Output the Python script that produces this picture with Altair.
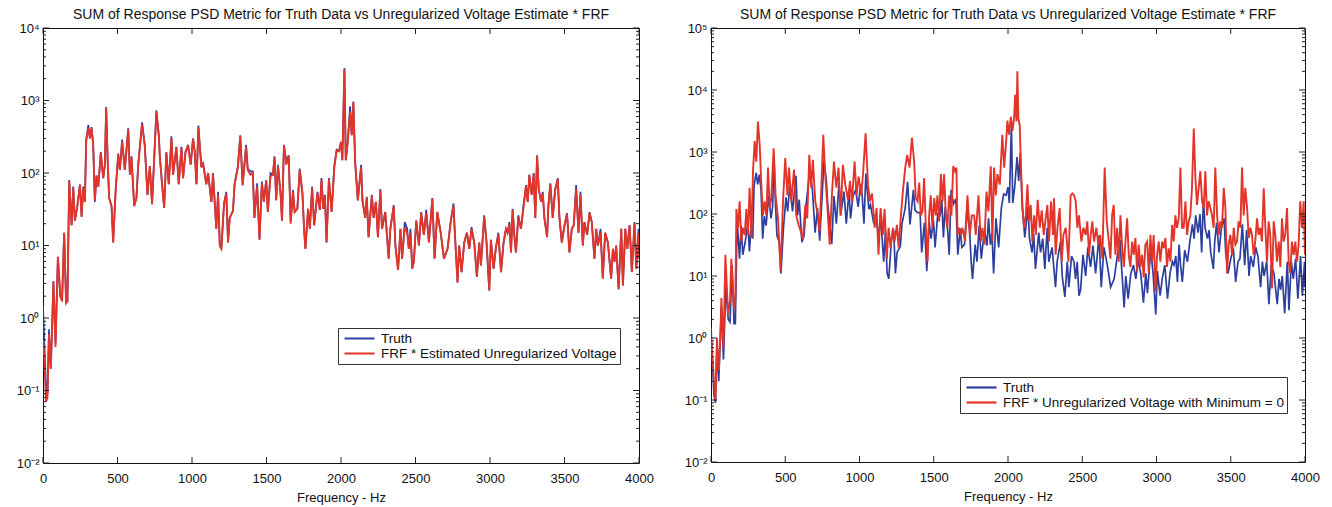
import altair as alt
import pandas as pd

# ---------------- data ----------------
truth_f = [
    0, 10, 20, 30, 40, 52, 62, 70, 84, 100,
    116, 128, 142, 155, 164, 176, 192, 203, 214, 230,
    248, 259, 270, 281, 290, 304, 315, 326, 337, 348,
    359, 371, 388, 404, 415, 424, 434, 444, 460, 471,
    488, 505, 516, 531, 549, 572, 583, 594, 612, 627,
    639, 665, 683, 701, 717, 732, 761, 777, 784, 799,
    813, 828, 844, 862, 873, 895, 911, 929, 940, 956,
    974, 991, 1007, 1018, 1030, 1043, 1063, 1074, 1096, 1108,
    1130, 1141, 1163, 1175, 1186, 1197, 1215, 1230, 1242, 1253,
    1275, 1286, 1308, 1324, 1340, 1363, 1374, 1392, 1408, 1419,
    1437, 1453, 1469, 1482, 1498, 1509, 1527, 1543, 1554, 1565,
    1577, 1595, 1604, 1617, 1633, 1649, 1662, 1678, 1689, 1707,
    1723, 1741, 1752, 1761, 1779, 1791, 1806, 1820, 1842, 1858,
    1869, 1881, 1892, 1903, 1919, 1937, 1955, 1971, 1987, 2000,
    2009, 2023, 2032, 2045, 2061, 2072, 2083, 2095, 2113, 2135,
    2144, 2162, 2173, 2185, 2207, 2219, 2234, 2248, 2264, 2275,
    2297, 2320, 2331, 2354, 2365, 2383, 2399, 2410, 2428, 2444,
    2455, 2466, 2478, 2489, 2505, 2523, 2538, 2556, 2572, 2590,
    2613, 2628, 2646, 2669, 2691, 2715, 2737, 2755, 2764, 2782,
    2793, 2809, 2827, 2845, 2861, 2876, 2894, 2912, 2928, 2939,
    2961, 2977, 2995, 3006, 3024, 3040, 3056, 3074, 3091, 3107,
    3118, 3130, 3141, 3152, 3163, 3174, 3190, 3208, 3226, 3242,
    3253, 3264, 3280, 3293, 3304, 3316, 3327, 3343, 3354, 3365,
    3383, 3392, 3405, 3421, 3437, 3455, 3466, 3482, 3500, 3517,
    3533, 3549, 3562, 3578, 3594, 3607, 3623, 3634, 3652, 3668,
    3683, 3701, 3713, 3724, 3742, 3757, 3773, 3791, 3813, 3825,
    3836, 3847, 3863, 3881, 3892, 3908, 3921, 3937, 3952, 3970,
    3982, 3997, 4000,
]

truth_v = [
    1.5, 0.4, 0.12, 0.09, 0.7, 0.2, 0.9, 3.2, 0.45, 7,
    2, 1.8, 15, 1.7, 1.7, 80, 19, 65, 22, 35,
    70, 25, 65, 40, 285, 460, 300, 430, 245, 40,
    93, 65, 195, 85, 130, 810, 150, 45, 35, 11,
    60, 185, 110, 290, 110, 415, 95, 170, 35, 45,
    130, 500, 245, 50, 125, 37, 730, 340, 170, 70,
    33, 195, 70, 320, 95, 230, 70, 230, 85, 195,
    245, 130, 300, 200, 70, 450, 120, 140, 70, 100,
    40, 100, 17, 55, 11, 9, 38, 55, 11, 24,
    30, 70, 125, 330, 68, 245, 115, 105, 105, 24,
    72, 12, 76, 40, 80, 29, 100, 95, 170, 42,
    130, 50, 22, 245, 145, 175, 22, 58, 29, 32,
    115, 55, 17, 9, 32, 17, 65, 19, 55, 31,
    85, 32, 50, 11, 85, 29, 125, 210, 200, 270,
    150, 2800, 150, 270, 830, 340, 970, 140, 42, 130,
    42, 24, 47, 13, 50, 24, 40, 13, 60, 17,
    29, 6.6, 17, 36, 10, 4.6, 17, 6.6, 21, 17,
    9, 17, 4.8, 6, 22, 10, 29, 14, 31, 11,
    45, 6.6, 29, 15, 6.6, 9, 22, 38, 15, 3.1,
    10, 4.3, 11, 15, 9, 18, 11, 3.7, 11, 5.3,
    26, 11, 2.4, 12, 4.8, 9.5, 15, 4.3, 11, 17,
    15, 21, 8, 32, 14, 8, 26, 17, 38, 68,
    40, 95, 50, 100, 24, 175, 60, 40, 55, 24,
    13, 36, 72, 24, 60, 85, 24, 11, 19, 28,
    8, 17, 19, 68, 15, 55, 10, 21, 14, 29,
    21, 6.6, 17, 10, 17, 3.5, 15, 11, 3.5, 9,
    6, 10, 2.5, 17, 2.8, 17, 9, 19, 4.3, 21,
    4.8, 17, 6.6,
]

# FRF * Estimated Unregularized Voltage (left panel), same frequency lines as truth
est_left_v = [
    0.5, 0.25, 0.07, 0.08, 0.6, 0.2, 0.8, 3.2, 0.4, 7,
    2, 1.7, 15, 1.6, 1.7, 78, 19, 62, 22, 34,
    68, 25, 62, 40, 280, 420, 300, 420, 240, 42,
    90, 65, 190, 85, 125, 790, 150, 45, 35, 11,
    60, 180, 110, 270, 110, 400, 95, 165, 35, 45,
    128, 470, 240, 50, 125, 37, 700, 330, 170, 70,
    33, 190, 70, 300, 95, 225, 70, 225, 85, 190,
    240, 130, 295, 200, 70, 420, 120, 135, 70, 100,
    40, 95, 17, 50, 10, 9, 38, 52, 11, 24,
    30, 70, 120, 320, 68, 230, 110, 95, 100, 24,
    65, 12, 72, 40, 78, 29, 90, 95, 165, 42,
    125, 50, 22, 240, 130, 170, 20, 55, 29, 32,
    110, 52, 17, 9, 32, 17, 62, 19, 53, 31,
    80, 32, 48, 11, 82, 29, 120, 205, 200, 265,
    150, 2700, 150, 260, 700, 330, 950, 140, 42, 120,
    42, 24, 45, 13, 48, 24, 40, 13, 58, 17,
    29, 6.6, 17, 35, 10, 4.6, 17, 6.6, 18, 15,
    9, 15, 4.8, 6, 22, 10, 28, 14, 28, 11,
    44, 6.6, 29, 15, 6.6, 9, 22, 35, 15, 3.1,
    10, 4.3, 11, 15, 9, 17, 11, 3.7, 11, 5.3,
    25, 11, 2.4, 12, 4.8, 9.5, 14, 4.3, 11, 17,
    15, 20, 8, 31, 14, 8, 25, 17, 35, 66,
    40, 92, 50, 98, 24, 172, 60, 40, 52, 24,
    13, 35, 70, 24, 58, 82, 24, 11, 19, 27,
    8, 17, 19, 60, 15, 50, 10, 21, 14, 28,
    21, 6.6, 17, 10, 15, 3.5, 15, 11, 3.5, 9,
    6, 10, 2.5, 17, 2.8, 17, 9, 19, 4.3, 20,
    4.8, 15, 6.6,
]

# FRF * Unregularized Voltage with Minimum = 0 (right panel)
est_right_f = [
    0, 10, 20, 30, 40, 52, 62, 70, 84, 97,
    115, 128, 137, 155, 164, 171, 182, 193, 204, 215,
    227, 238, 249, 260, 272, 283, 294, 305, 316, 328,
    339, 350, 361, 373, 384, 395, 406, 422, 435, 451,
    469, 485, 500, 514, 525, 541, 559, 574, 590, 604,
    619, 635, 648, 662, 675, 686, 702, 720, 731, 743,
    756, 769, 783, 799, 814, 828, 844, 859, 873, 888,
    904, 922, 936, 949, 967, 980, 994, 1012, 1025, 1041,
    1057, 1070, 1084, 1102, 1115, 1128, 1142, 1158, 1169, 1184,
    1196, 1209, 1225, 1236, 1252, 1263, 1276, 1292, 1308, 1321,
    1337, 1353, 1368, 1379, 1391, 1402, 1413, 1424, 1435, 1447,
    1458, 1469, 1480, 1491, 1503, 1514, 1525, 1536, 1548, 1559,
    1570, 1581, 1592, 1604, 1619, 1631, 1644, 1653, 1660, 1671,
    1682, 1693, 1711, 1727, 1743, 1756, 1772, 1783, 1801, 1817,
    1828, 1841, 1855, 1868, 1884, 1895, 1906, 1918, 1929, 1945,
    1962, 1974, 1985, 1996, 2007, 2019, 2030, 2041, 2048, 2057,
    2063, 2070, 2079, 2086, 2097, 2108, 2120, 2131, 2142, 2153,
    2164, 2176, 2187, 2200, 2214, 2227, 2241, 2254, 2265, 2276,
    2290, 2303, 2310, 2321, 2333, 2348, 2362, 2373, 2389, 2407,
    2422, 2434, 2445, 2456, 2467, 2478, 2494, 2508, 2523, 2534,
    2546, 2557, 2568, 2579, 2595, 2608, 2620, 2635, 2651, 2665,
    2679, 2690, 2701, 2712, 2723, 2735, 2746, 2757, 2768, 2780,
    2791, 2802, 2813, 2824, 2836, 2847, 2858, 2869, 2880, 2892,
    2903, 2914, 2925, 2937, 2948, 2959, 2970, 2981, 2993, 3004,
    3015, 3026, 3038, 3049, 3060, 3071, 3082, 3094, 3105, 3116,
    3127, 3138, 3150, 3161, 3172, 3183, 3195, 3206, 3217, 3228,
    3239, 3251, 3262, 3273, 3284, 3295, 3307, 3318, 3329, 3340,
    3351, 3363, 3374, 3385, 3396, 3408, 3419, 3430, 3441, 3453,
    3464, 3475, 3486, 3497, 3509, 3520, 3531, 3542, 3553, 3565,
    3576, 3587, 3598, 3610, 3621, 3632, 3643, 3654, 3665, 3677,
    3688, 3699, 3710, 3722, 3733, 3744, 3755, 3766, 3778, 3789,
    3800, 3811, 3823, 3834, 3845, 3856, 3867, 3879, 3890, 3901,
    3912, 3924, 3935, 3946, 3957, 3968, 3980, 3991, 4000,
]

est_right_v = [
    1.0, 0.5, 0.2, 0.1, 1.0, 0.3, 0.9, 4.4, 0.7, 22,
    2.4, 4, 19, 3, 4, 120, 60, 160, 36, 60,
    46, 120, 46, 265, 41, 490, 1500, 700, 3100, 1300,
    300, 95, 160, 95, 560, 125, 180, 1150, 200, 85,
    12, 160, 800, 200, 560, 160, 520, 95, 67, 53,
    39, 140, 85, 900, 265, 750, 160, 95, 53, 265,
    1900, 430, 140, 32, 200, 700, 265, 560, 95, 620,
    300, 170, 340, 160, 700, 200, 400, 200, 490, 2000,
    300, 160, 215, 60, 125, 22, 125, 46, 120, 19,
    60, 29, 60, 36, 67, 29, 76, 230, 560, 900,
    560, 1700, 700, 180, 160, 320, 95, 110, 380, 60,
    17, 95, 200, 60, 180, 95, 200, 76, 440, 160,
    440, 95, 60, 200, 95, 590, 490, 560, 46, 60,
    46, 60, 36, 200, 46, 95, 95, 46, 200, 36,
    60, 32, 230, 110, 590, 36, 560, 200, 440, 300,
    1900, 560, 1200, 3200, 1900, 3700, 2200, 3500, 8400, 3100,
    20000, 3500, 2700, 700, 140, 60, 95, 300, 76, 140,
    36, 95, 46, 170, 60, 115, 46, 85, 140, 36,
    160, 46, 180, 22, 60, 125, 17, 46, 60, 17,
    200, 215, 200, 160, 60, 95, 36, 60, 46, 76,
    22, 46, 76, 36, 60, 32, 46, 19, 560, 76,
    36, 19, 95, 140, 22, 60, 17, 95, 32, 14,
    36, 85, 22, 14, 36, 22, 41, 12, 32, 14,
    22, 9.5, 32, 36, 11, 46, 17, 46, 5.7, 22,
    36, 17, 36, 28, 41, 14, 28, 17, 67, 36,
    95, 60, 85, 560, 60, 60, 160, 46, 76, 95,
    265, 2400, 380, 140, 265, 490, 160, 125, 490, 95,
    160, 125, 95, 60, 560, 95, 46, 76, 60, 265,
    125, 11, 32, 46, 22, 60, 32, 36, 76, 60,
    560, 95, 265, 125, 41, 60, 46, 22, 36, 85,
    46, 60, 36, 260, 60, 17, 76, 46, 6.3, 76,
    46, 17, 36, 14, 85, 36, 46, 125, 17, 11,
    36, 22, 36, 17, 32, 160, 60, 160, 22,
]

x_ticks = [0, 500, 1000, 1500, 2000, 2500, 3000, 3500, 4000]
y_ticks_left = [0.01, 0.1, 1, 10, 100, 1000, 10000]
y_ticks_right = [0.01, 0.1, 1, 10, 100, 1000, 10000, 100000]

TITLE = "SUM of Response PSD Metric for Truth Data vs Unregularized Voltage Estimate * FRF"
LABEL_TRUTH = "Truth"
LABEL_LEFT = "FRF * Estimated Unregularized Voltage"
LABEL_RIGHT = "FRF * Unregularized Voltage with Minimum = 0"

# ---------------- styling ----------------
FONT = "Liberation Sans"
BLUE = "#2d3f9e"
RED = "#e3342a"
FS = 13

SUP = ("datum.value < 0.05 ? '10\u207b\u00b2' : datum.value < 0.5 ? '10\u207b\u00b9' : "
       "datum.value < 5 ? '10\u2070' : datum.value < 50 ? '10\u00b9' : "
       "datum.value < 500 ? '10\u00b2' : datum.value < 5000 ? '10\u00b3' : "
       "datum.value < 50000 ? '10\u2074' : '10\u2075'")


def panel(red_f, red_v, red_label, y_major, W, H, lx, ly):
    ymax = y_major[-1]
    df = pd.DataFrame(
        {"f": list(truth_f) + list(red_f),
         "v": list(truth_v) + list(red_v),
         "s": [LABEL_TRUTH] * len(truth_f) + [red_label] * len(red_f)}
    )
    xsc = alt.Scale(domain=[0, 4000], nice=False, zero=False)
    ysc = alt.Scale(type="log", domain=[0.01, ymax], nice=False)
    xaxis = alt.Axis(values=x_ticks, format="d", ticks=False, domain=False, grid=False,
                     labelFont=FONT, labelFontSize=FS, labelColor="#111", labelPadding=9,
                     labelFlush=False, title="Frequency - Hz", titleFont=FONT,
                     titleFontSize=FS, titleFontWeight="normal", titleColor="#111",
                     titlePadding=6)
    yaxis = alt.Axis(values=y_major, labelExpr=SUP, ticks=False, domain=False,
                     grid=False, labelFont=FONT, labelFontSize=FS, labelColor="#111",
                     labelPadding=4, title=None, minExtent=34, maxExtent=34)
    color = alt.Color(
        "s:N",
        scale=alt.Scale(domain=[LABEL_TRUTH, red_label], range=[BLUE, RED]),
        legend=alt.Legend(
            title=None, orient="none", legendX=lx, legendY=ly,
            symbolType="stroke", symbolStrokeWidth=2.2, symbolSize=900,
            labelFont=FONT, labelFontSize=13.5, labelColor="#111", labelLimit=0,
            strokeColor="#333", fillColor="white", padding=3,
            rowPadding=0, clipHeight=15, labelOffset=5, symbolOffset=2,
        ),
    )
    xenc = alt.X("f:Q", scale=xsc, axis=xaxis)
    yenc = alt.Y("v:Q", scale=ysc, axis=yaxis)
    base = alt.Chart(df)
    blue = base.transform_filter(alt.datum.s == LABEL_TRUTH).mark_line(
        strokeWidth=1.7, clip=True).encode(x=xenc, y=yenc, color=color)
    red = base.transform_filter(alt.datum.s != LABEL_TRUTH).mark_line(
        strokeWidth=1.9, clip=True).encode(x=xenc, y=yenc, color=color)

    xt = pd.DataFrame({"f": x_ticks})
    y_minor = [m * d for d in y_major[:-1] for m in range(2, 10)]
    ymj = pd.DataFrame({"v": y_major})
    ymn = pd.DataFrame({"v": y_minor})
    rule = dict(color="#222", strokeWidth=1)
    layers = [
        alt.Chart(xt).mark_rule(**rule).encode(x=xenc, y=alt.value(H - 6), y2=alt.value(H)),
        alt.Chart(xt).mark_rule(**rule).encode(x=xenc, y=alt.value(0), y2=alt.value(6)),
        alt.Chart(ymj).mark_rule(**rule).encode(y=yenc, x=alt.value(0), x2=alt.value(6)),
        alt.Chart(ymj).mark_rule(**rule).encode(y=yenc, x=alt.value(W - 6), x2=alt.value(W)),
        alt.Chart(ymn).mark_rule(**rule).encode(y=yenc, x=alt.value(0), x2=alt.value(3)),
        alt.Chart(ymn).mark_rule(**rule).encode(y=yenc, x=alt.value(W - 3), x2=alt.value(W)),
    ]
    return alt.layer(blue, red, *layers).properties(
        width=W, height=H,
        title=alt.TitleParams(TITLE, font=FONT, fontSize=FS + 1, fontWeight="normal",
                              color="#111", anchor="middle", offset=0),
    )


left = panel(truth_f, est_left_v, LABEL_LEFT, y_ticks_left, 596, 435, 295, 300)
right = panel(est_right_f, est_right_v, LABEL_RIGHT, y_ticks_right, 594, 434, 249, 349)

chart = (
    alt.hconcat(left, right, spacing=22)
    .resolve_scale(color="independent", x="independent", y="independent")
    .resolve_legend(color="independent")
    .properties(padding={"left": 8, "top": 7, "right": 0, "bottom": 0}, background="white")
    .configure_view(stroke="#111", strokeWidth=1)
)

chart.save("out.html", embed_options={"renderer": "svg", "actions": False})
